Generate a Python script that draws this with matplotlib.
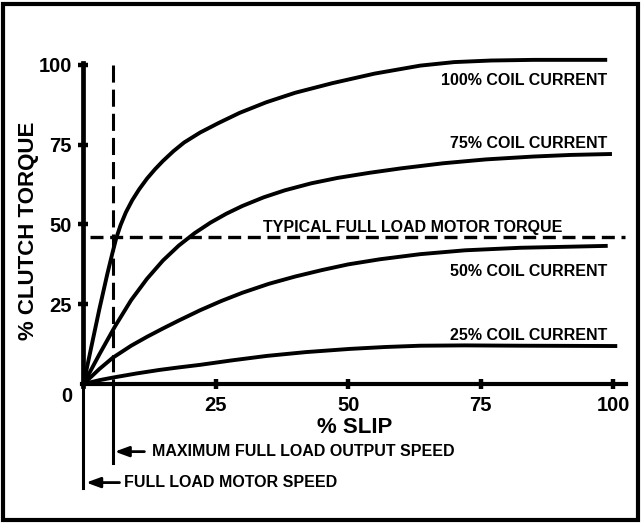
import matplotlib
matplotlib.use('Agg')
import matplotlib.pyplot as plt
from matplotlib.patches import Rectangle

plt.rcParams['font.family'] = ['Liberation Sans', 'DejaVu Sans']

# curves: % slip -> % clutch torque
slip_100 = [0, 1.5, 3, 4.5, 5.5, 6.2, 7, 8, 9.2, 10.5, 12, 13.5, 15, 17, 19, 22, 25.5, 29.5,
            34.5, 40, 47, 55, 63.6, 70, 77, 85, 98.9]
torque_100 = [0, 11.8, 23.5, 34.5, 41.3, 45.8, 49.8, 53.8, 57.6, 61, 64.4, 67.3, 69.9, 73, 75.7,
              78.8, 81.8, 85, 88.3, 91.3, 94.3, 97.3, 99.8, 100.9, 101.4, 101.6, 101.6]

slip_75 = [0, 3, 6, 9, 12, 15, 18, 21, 24, 27, 30, 34, 38, 43, 48, 54, 60, 68, 76, 85, 92, 99.8]
torque_75 = [0, 9.3, 18.2, 26.3, 33, 38.7, 43.4, 47.3, 50.6, 53.4, 55.8, 58.5, 60.7, 62.9, 64.6,
             66.2, 67.6, 69.2, 70.4, 71.3, 71.8, 72.1]

slip_50 = [0, 3, 5.5, 9, 12, 15, 18, 22, 26, 30, 35, 40, 45, 50, 56, 63.6, 72, 82.5, 99]
torque_50 = [0, 4.7, 8.2, 12, 14.8, 17.4, 19.9, 23.1, 26, 28.6, 31.4, 33.7, 35.7, 37.5, 39.1,
             40.7, 41.9, 42.7, 43.3]

slip_25 = [0, 3, 5.5, 10, 14.3, 18, 22, 28, 34.6, 42, 50.3, 57, 63.6, 72, 82.5, 100.8]
torque_25 = [0, 1.2, 2.0, 3.3, 4.4, 5.2, 6.0, 7.4, 8.8, 10.0, 11.0, 11.6, 12.0, 12.1, 12.0, 11.9]

curve_labels = ['100% COIL CURRENT', '75% COIL CURRENT', '50% COIL CURRENT', '25% COIL CURRENT']
label_y = [93.7, 74.0, 33.9, 13.8]

ticks = [25, 50, 75, 100]
full_load_torque = 46.2
max_output_slip = 5.5

fig = plt.figure(figsize=(6.42, 5.24), dpi=100)
ax = fig.add_axes([83.5 / 642, 140 / 524, 545.4 / 642, 328.6 / 524])
ax.set_xlim(0, 103)
ax.set_ylim(0, 103)

for xs, ys in [(slip_100, torque_100), (slip_75, torque_75), (slip_50, torque_50), (slip_25, torque_25)]:
    ax.plot(xs, ys, color='black', lw=2.8, solid_capstyle='butt', solid_joinstyle='round', clip_on=False)

for txt, y in zip(curve_labels, label_y):
    ax.text(98.9, y, txt, ha='right', va='baseline', fontsize=11.5, fontweight='bold')

# typical full load torque line
ax.plot([1.3, 102.3], [full_load_torque, full_load_torque], color='black', lw=2.4,
        dashes=(3.9, 2.0), clip_on=False)
ax.text(33.9, 47.6, 'TYPICAL FULL LOAD MOTOR TORQUE', ha='left', va='baseline',
        fontsize=11.5, fontweight='bold')

# max full load output speed line
ax.plot([max_output_slip, max_output_slip], [100, 0], color='black', lw=2.2,
        dashes=(5.6, 2.3), clip_on=False)
ax.plot([max_output_slip, max_output_slip], [0, -24.8], color='black', lw=2.2, clip_on=False)
ax.annotate('', xy=(max_output_slip + 0.4, -21.2), xytext=(11.5, -21.2), annotation_clip=False,
            arrowprops=dict(arrowstyle='-|>,head_length=0.6,head_width=0.22', color='black',
                            lw=2, mutation_scale=14, shrinkA=0, shrinkB=0))
ax.text(12.9, -21.2, 'MAXIMUM FULL LOAD OUTPUT SPEED', ha='left', va='center',
        fontsize=11.5, fontweight='bold')

# full load motor speed line
ax.plot([0, 0], [-1.5, -32.6], color='black', lw=2.2, clip_on=False)
ax.annotate('', xy=(0.5, -30.9), xytext=(6.8, -30.9), annotation_clip=False,
            arrowprops=dict(arrowstyle='-|>,head_length=0.6,head_width=0.22', color='black',
                            lw=2, mutation_scale=14, shrinkA=0, shrinkB=0))
ax.text(7.6, -30.9, 'FULL LOAD MOTOR SPEED', ha='left', va='center',
        fontsize=11.5, fontweight='bold')

# axes
for s in ['top', 'right']:
    ax.spines[s].set_visible(False)
ax.spines['left'].set_linewidth(3.4)
ax.spines['bottom'].set_linewidth(3.0)
ax.spines['left'].set_bounds(-0.5, 100.5)
ax.spines['bottom'].set_bounds(-0.3, 102.5)
ax.set_xticks(ticks)
ax.set_yticks(ticks)
ax.set_xticklabels([str(t) for t in ticks])
ax.set_yticklabels([str(t) for t in ticks])
ax.tick_params(direction='inout', length=7.2, width=3.2, labelsize=14.5)
ax.tick_params(axis='y', pad=4.7)
ax.tick_params(axis='x', pad=5)
for lab in ax.get_xticklabels() + ax.get_yticklabels():
    lab.set_fontweight('bold')
ax.text(-3.2, -3.9, '0', ha='center', va='center', fontsize=14.5, fontweight='bold')

ax.set_xlabel('% SLIP', fontsize=16, fontweight='bold', va='center')
ax.xaxis.set_label_coords(0.4978, -0.1339)
ax.set_ylabel('% CLUTCH TORQUE', fontsize=16, fontweight='bold', va='center')
ax.yaxis.set_label_coords(-0.1005, 0.4656)

fig.patches.append(Rectangle((3 / 642, 4 / 524), 635 / 642, 516 / 524, transform=fig.transFigure,
                             fill=False, edgecolor='black', lw=3))

fig.savefig('out.png', dpi=100)
